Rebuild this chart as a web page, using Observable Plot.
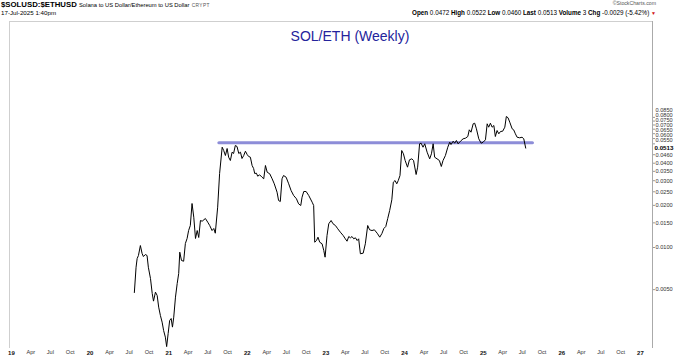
<!DOCTYPE html>
<html><head><meta charset="utf-8">
<script src="https://cdn.jsdelivr.net/npm/d3@7"></script>
<script src="https://cdn.jsdelivr.net/npm/@observablehq/plot@0.6"></script>
<style>
body{margin:0;background:#fff;font-family:"Liberation Sans",Arial,sans-serif;}
#wrap{position:relative;width:680px;height:359px;overflow:hidden;}
.hdr{position:absolute;white-space:nowrap;color:#000;line-height:1;}
#title{position:absolute;left:0;width:700px;text-align:center;top:29px;font-size:14px;color:#24249c;line-height:1;}
</style></head><body>
<div id="wrap"></div>
<script>
// ---- data (weekly SOL/ETH ratio) ----
const dates = [
"2020-07-25","2020-08-02","2020-08-07","2020-08-13","2020-08-22","2020-08-30","2020-09-05","2020-09-14","2020-09-22","2020-09-28",
"2020-10-08","2020-10-16","2020-10-22","2020-10-31","2020-11-08","2020-11-15","2020-11-23","2020-12-01","2020-12-08","2020-12-16",
"2020-12-22","2020-12-29","2021-01-05","2021-01-12","2021-01-18","2021-01-24","2021-02-01","2021-02-09","2021-02-16","2021-02-21",
"2021-03-01","2021-03-11","2021-03-19","2021-03-27","2021-04-03","2021-04-11","2021-04-19","2021-04-27","2021-05-05","2021-05-13",
"2021-05-20","2021-05-28","2021-06-05","2021-06-20","2021-07-01","2021-07-10","2021-07-21","2021-07-29","2021-08-05","2021-08-16",
"2021-08-25","2021-09-06","2021-09-13","2021-09-21","2021-09-29","2021-10-06","2021-10-14","2021-10-22","2021-10-29","2021-11-06",
"2021-11-14","2021-11-22","2021-11-30","2021-12-07","2021-12-15","2021-12-23","2021-12-31","2022-01-07","2022-01-15","2022-01-23",
"2022-01-30","2022-02-04","2022-02-12","2022-02-18","2022-02-27","2022-03-10","2022-03-18","2022-03-26","2022-04-03","2022-04-15",
"2022-04-26","2022-05-06","2022-05-19","2022-05-26","2022-06-03","2022-06-11","2022-06-18","2022-06-30","2022-07-12","2022-07-23",
"2022-08-04","2022-08-17","2022-08-27","2022-09-06","2022-09-12","2022-09-20","2022-10-01","2022-10-13","2022-10-29","2022-11-05",
"2022-11-10","2022-11-18","2022-11-25","2022-12-03","2022-12-14","2022-12-22","2022-12-28","2023-01-06","2023-01-14","2023-01-25",
"2023-02-03","2023-02-14","2023-02-25","2023-03-09","2023-03-22","2023-04-01","2023-04-09","2023-04-17","2023-04-25","2023-05-02",
"2023-05-10","2023-05-18","2023-05-26","2023-06-02","2023-06-10","2023-06-23","2023-07-03","2023-07-14","2023-07-23","2023-08-03",
"2023-08-14","2023-08-27","2023-09-08","2023-09-18","2023-09-27","2023-10-06","2023-10-15","2023-10-24","2023-11-03","2023-11-10",
"2023-11-18","2023-11-26","2023-12-03","2023-12-11","2023-12-19","2023-12-27","2024-01-04","2024-01-15","2024-01-24","2024-02-04",
"2024-02-12","2024-02-24","2024-03-02","2024-03-11","2024-03-18","2024-03-27","2024-04-04","2024-04-15","2024-04-27","2024-05-05",
"2024-05-13","2024-05-20","2024-05-31","2024-06-11","2024-06-20","2024-06-28","2024-07-09","2024-07-20","2024-07-29","2024-08-04",
"2024-08-14","2024-08-21","2024-08-29","2024-09-06","2024-09-17","2024-09-29","2024-10-10","2024-10-21","2024-10-28","2024-11-05",
"2024-11-15","2024-11-22","2024-11-30","2024-12-11","2024-12-22","2024-12-31","2025-01-11","2025-01-19","2025-01-26","2025-02-03",
"2025-02-11","2025-02-19","2025-02-26","2025-03-06","2025-03-14","2025-03-22","2025-04-01","2025-04-11","2025-04-18","2025-04-26",
"2025-05-04","2025-05-15","2025-05-22","2025-05-30","2025-06-07","2025-06-19","2025-06-30","2025-07-08","2025-07-17"
];
const ratio = [
0.00477,0.00723,0.00834,0.00877,0.01033,0.00906,0.00862,0.00891,0.00877,0.00723,
0.00600,0.00469,0.00414,0.00480,0.00454,0.00375,0.00327,0.00293,0.00255,0.00229,
0.00196,0.00243,0.00301,0.00311,0.00270,0.00318,0.00442,0.00553,0.00652,0.00926,
0.00808,0.00798,0.01068,0.0116,0.01322,0.01436,0.02062,0.01646,0.0116,0.01322,
0.01179,0.01559,0.01541,0.01611,0.01516,0.01436,0.01322,0.01367,0.01265,0.01941,
0.03377,0.05204,0.0493,0.04541,0.05095,0.04416,0.04182,0.04795,0.04693,0.05353,
0.05265,0.04693,0.04795,0.04322,0.04541,0.04873,0.04617,0.04467,0.04416,0.03853,
0.03666,0.03377,0.03394,0.03231,0.03306,0.03178,0.03096,0.03853,0.0345,0.0336,
0.03096,0.02851,0.02483,0.02166,0.02131,0.03096,0.03268,0.03178,0.02851,0.02554,
0.02352,0.02228,0.02051,0.01995,0.02287,0.02512,0.02512,0.02352,0.02107,0.01995,
0.01091,0.01122,0.01185,0.01091,0.01063,0.00952,0.00853,0.01218,0.01477,0.01559,
0.01477,0.01436,0.0136,0.01286,0.01218,0.01154,0.01109,0.01198,0.01173,0.01198,
0.01154,0.01173,0.01122,0.01154,0.00902,0.00911,0.01063,0.01436,0.01338,0.01322,
0.01338,0.01265,0.01185,0.01259,0.01367,0.01413,0.01611,0.01837,0.02191,0.02927,
0.0301,0.02851,0.0301,0.03268,0.0493,0.0467,0.04182,0.03747,0.0423,0.0430,
0.04182,0.03322,0.03747,0.05504,0.05559,0.05204,0.05504,0.04795,0.0430,0.0467,
0.05504,0.04416,0.0430,0.04182,0.0379,0.04182,0.04541,0.05204,0.0565,0.0544,
0.05744,0.05559,0.05811,0.05504,0.05744,0.05975,0.06034,0.06206,0.0693,0.06662,
0.07649,0.07725,0.07045,0.05975,0.05559,0.0565,0.05878,0.07649,0.07233,0.07725,
0.07233,0.07437,0.06206,0.0685,0.06488,0.06739,0.06772,0.07233,0.08626,0.08443,
0.07852,0.07045,0.0693,0.06488,0.06135,0.06075,0.06135,0.05975,0.0513
];
// horizontal resistance/support line
const levelDates = ["2021-08-22", "2025-08-17"];
const levelValue = 0.0560;
// axis ticks
const yTicks = [0.005, 0.01, 0.015, 0.02, 0.025, 0.03, 0.035, 0.04, 0.046, 0.055, 0.06, 0.065, 0.07, 0.075, 0.08, 0.085];
const lastValue = 0.0513;
const yearTickLabels = ["19","20","21","22","23","24","25","26","27"];
const monthTickLabels = ["Apr","Jul","Oct"];
const xDomain = ["2018-12-23", "2027-02-26"];
const yDomain = [0.001931, 0.4114];
// header text
const symbol = "$SOLUSD:$ETHUSD";
const symbolName = "Solana to US Dollar/Ethereum to US Dollar";
const exchange = "CRYPT";
const stamp = "17-Jul-2025 1:40pm";
const statNames = ["Open","High","Low","Last","Volume","Chg"];
const statValues = ["0.0472","0.0522","0.0460","0.0513","3","-0.0029 (-5.42%)"];
const titleText = "SOL/ETH (Weekly)";

// ---- build ----
const parse = d3.utcParse("%Y-%m-%d");
const series = dates.map((d, i) => ({date: parse(d), value: ratio[i]}));
const level = levelDates.map(d => ({date: parse(d), value: levelValue}));

const W = 680, H = 359, mL = 9, mR = 28, mT = 21, mB = 12;
const font = "Liberation Sans, Arial, sans-serif";

const yearTicks = yearTickLabels.map(y => new Date(Date.UTC(2000 + +y, 0, 1)));
const monthIdx = {Apr: 3, Jul: 6, Oct: 9};
const monthTicks = [];
for (let y = 2019; y <= 2026; y++) for (const m of monthTickLabels) monthTicks.push(new Date(Date.UTC(y, monthIdx[m], 1)));

// label de-overlap for the crowded upper y labels (uses same log mapping as Plot)
const ys = d3.scaleLog().domain(yDomain).range([H - mB, mT]);
const lower = yTicks.filter(v => v < lastValue);
const upper = yTicks.filter(v => v > lastValue).sort((a, b) => a - b);
let limit = ys(lastValue) - 8;
const upperShift = upper.map(v => {
  const py = ys(v);
  const ny = Math.min(py, limit);
  limit = ny - 5;
  return ny - py;
});
const fmt = d3.format(".4f");
const labelOpts = {frameAnchor: "right", textAnchor: "start", dx: 3, fontSize: 5.6, fill: "#333", text: d => fmt(d)};

const chart = Plot.plot({
  width: W, height: H,
  marginLeft: mL, marginRight: mR, marginTop: mT, marginBottom: mB,
  style: {fontFamily: font, background: "transparent", overflow: "visible"},
  x: {type: "utc", domain: xDomain.map(parse)},
  y: {type: "log", domain: yDomain},
  marks: [
    Plot.frame({anchor: "top", stroke: "#cfcfcf"}),
    Plot.frame({anchor: "left", stroke: "#cfcfcf"}),
    Plot.frame({anchor: "right", stroke: "#aaaaaa"}),
    Plot.axisX({ticks: yearTicks, tickFormat: d => String(d.getUTCFullYear()).slice(2), tickSize: 0, tickPadding: 3, fontSize: 6, fontWeight: "bold", fill: "#111", label: null}),
    Plot.axisX({ticks: monthTicks, tickFormat: d3.utcFormat("%b"), tickSize: 0, tickPadding: 3, fontSize: 5.6, fill: "#333", label: null}),
    Plot.axisY({anchor: "right", ticks: yTicks, tickSize: 2, stroke: "#999", tickFormat: () => "", label: null}),
    Plot.text(lower, {y: d => d, ...labelOpts}),
    ...upper.map((v, i) => Plot.text([v], {y: d => d, dy: upperShift[i], ...labelOpts})),
    Plot.line(level, {x: "date", y: "value", stroke: "#8d8dd8", strokeWidth: 3.2}),
    Plot.line(series, {x: "date", y: "value", stroke: "#000", strokeWidth: 1}),
    Plot.text([lastValue], {y: d => d, frameAnchor: "right", textAnchor: "start", dx: 2, fontSize: 6.2, fontWeight: "bold", fill: "#000", text: d => fmt(d), ariaLabel: "last value"})
  ]
});

const wrap = document.getElementById("wrap");
wrap.appendChild(chart);

// box around the last value label
const lt = chart.querySelector('g[aria-label="last value"] text');
if (lt) {
  const bb = lt.getBBox();
  const r = document.createElementNS("http://www.w3.org/2000/svg", "rect");
  r.setAttribute("x", bb.x - 1.5); r.setAttribute("y", bb.y - 0.3);
  r.setAttribute("width", bb.width + 3); r.setAttribute("height", bb.height + 0.6);
  r.setAttribute("rx", 2); r.setAttribute("fill", "#fff"); r.setAttribute("stroke", "#000"); r.setAttribute("stroke-width", 0.8);
  if (lt.getAttribute("transform")) r.setAttribute("transform", lt.getAttribute("transform"));
  lt.parentNode.insertBefore(r, lt);
}

// header
function div(html, style) { const d = document.createElement("div"); d.className = "hdr"; d.setAttribute("style", style); d.innerHTML = html; wrap.appendChild(d); return d; }
div(`<b>${symbol}</b> <span style="font-size:5.8px">${symbolName}</span> <span style="font-size:4.8px;color:#555;letter-spacing:0.4px">${exchange}</span>`, "left:1px;top:0.5px;font-size:7.8px;");
div(stamp, "left:1px;top:10px;font-size:6.2px;");
div("©StockCharts.com", "right:24px;top:1px;font-size:5.2px;color:#555;");
div(statNames.map((n, i) => `<b>${n}</b> ${statValues[i]}`).join(" ") + ` <span style="color:#d01010;font-size:5px">▼</span>`, "right:24px;top:10px;font-size:6.3px;");
const t = document.createElement("div"); t.id = "title"; t.textContent = titleText; wrap.appendChild(t);
</script>
</body></html>
